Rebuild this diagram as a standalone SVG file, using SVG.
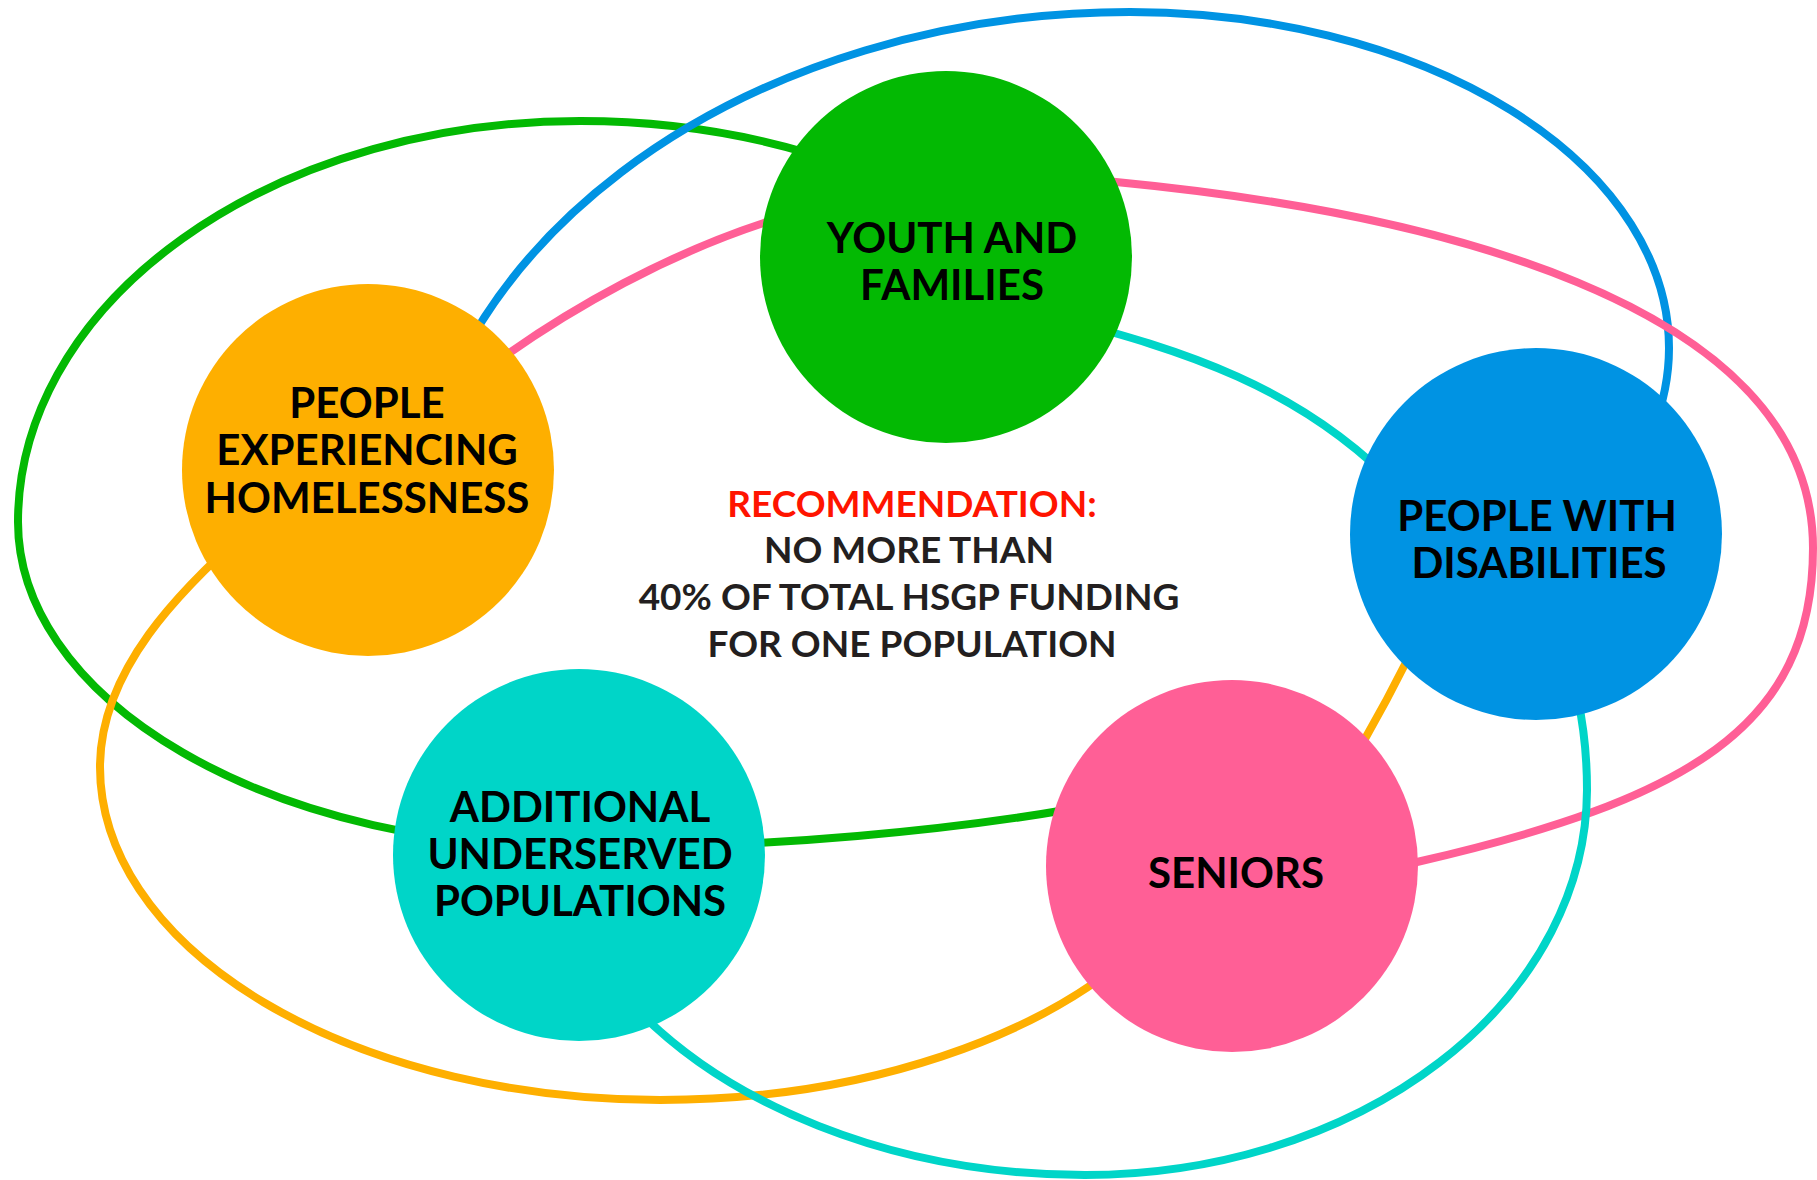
<svg xmlns="http://www.w3.org/2000/svg" width="1817" height="1180" viewBox="0 0 1817 1180">
<style>
.ring{fill:none;stroke-width:8;stroke-linecap:round}
.g{stroke:#03B903}.b{stroke:#0093E3}.p{stroke:#FF5F96}.o{stroke:#FEAF00}.t{stroke:#00D5C8}
.node text{font-family:Lato,"Liberation Sans",sans-serif;font-weight:700;font-size:42px;fill:#000;text-anchor:middle}
.center text{font-family:Lato,"Liberation Sans",sans-serif;font-weight:700;font-size:37px;fill:#231F20;text-anchor:middle}
.center .red{fill:#FF1400}
</style>
<rect width="1817" height="1180" fill="#fff"/>
<g id="connectors">
<path class="ring g" d="M850,167 A580,401 0 0 0 580,121 A562,401 0 0 0 18,522 A562,326 0 0 0 580,848 C760,848 960,832 1120,800"/>
<path class="ring b" d="M410,560 A720,548 0 0 1 1130,12 A539,336 0 0 1 1669,348 A539,336 0 0 1 1652.7,430"/>
<path class="ring p" d="M470,382 C560,312 680,245 800,212 C900,190 1040,174.7 1116,182 C1416,211 1813,298 1813,548 C1813,728 1686,800 1417,862 L1370,872"/>
<path class="ring o" d="M250,528 C180,590 100,670 100,767 A560,333 0 0 0 660,1100 A570,333 0 0 0 1150,937 C1200,888 1330,800 1366,737 S1425,625 1445,580"/>
<path class="ring t" d="M1060,318 C1180,350 1300,385 1400,490 C1480,560 1540,600 1560,640 C1580,690 1587,740 1587,790 A502,386 0 0 1 1085,1175 A545,385 0 0 1 620,991"/>
</g>
<g id="node-youth" class="node">
<circle cx="946" cy="257" r="186" fill="#03B903"/>
<text x="952" y="253">YOUTH AND</text>
<text x="952" y="300">FAMILIES</text>
</g>
<g id="node-homelessness" class="node">
<circle cx="368" cy="470" r="186" fill="#FEAF00"/>
<text x="367" y="418">PEOPLE</text>
<text x="367" y="465">EXPERIENCING</text>
<text x="367" y="513">HOMELESSNESS</text>
</g>
<g id="node-disabilities" class="node">
<circle cx="1536" cy="534" r="186" fill="#0093E3"/>
<text x="1537" y="531">PEOPLE WITH</text>
<text x="1539" y="578">DISABILITIES</text>
</g>
<g id="node-seniors" class="node">
<circle cx="1232" cy="866" r="186" fill="#FF5F96"/>
<text x="1236" y="888">SENIORS</text>
</g>
<g id="node-additional" class="node">
<circle cx="579" cy="855" r="186" fill="#00D5C8"/>
<text x="580" y="822">ADDITIONAL</text>
<text x="580" y="869">UNDERSERVED</text>
<text x="580" y="916">POPULATIONS</text>
</g>
<g id="recommendation" class="center">
<text class="red" x="912" y="517">RECOMMENDATION:</text>
<text x="909" y="563">NO MORE THAN</text>
<text x="909" y="610">40% OF TOTAL HSGP FUNDING</text>
<text x="912" y="657">FOR ONE POPULATION</text>
</g>
</svg>
